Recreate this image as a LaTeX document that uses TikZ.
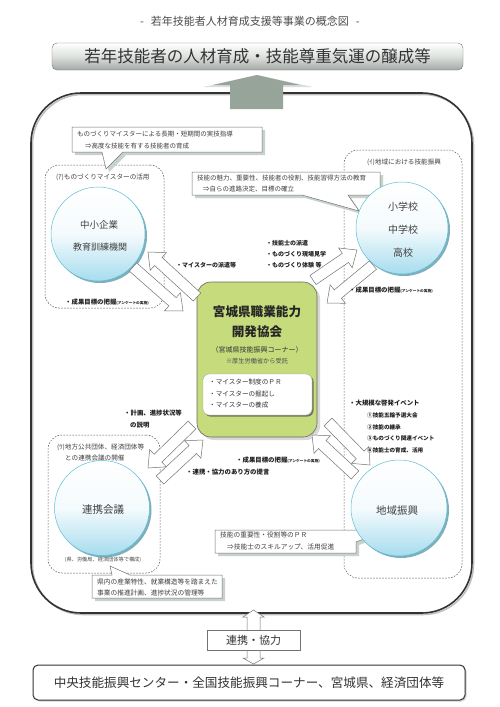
\documentclass[tikz,border=0pt]{standalone}
\usepackage{fontspec}
\setmainfont{Noto Sans CJK JP}
\usetikzlibrary{calc,shadows}
\definecolor{greenbox}{HTML}{C5DB7C}
\definecolor{cyanL}{HTML}{A6DCEE}
\definecolor{cyanB}{HTML}{5BBFD6}
\definecolor{cyanS}{HTML}{5F9BAA}
\definecolor{shadowc}{HTML}{C7D2CA}
\definecolor{arrowG}{HTML}{97A49A}
\definecolor{titleG}{HTML}{A3A9A5}
\definecolor{titleM}{HTML}{DDE1DE}
\definecolor{txt}{HTML}{333333}
\newcommand\fsz[1]{\fontsize{#1pt}{#1pt}\selectfont}
\newcommand\fatarrow[3]{%
  \coordinate (#1-a) at #2;
  \coordinate (#1-b) at #3;
  \coordinate (#1-n) at ($(#1-b)!14pt!(#1-a)$);
  \draw[fatarr] ($(#1-a)!5.5pt!90:(#1-b)$) -- ($(#1-n)!5.5pt!-90:(#1-a)$) -- ($(#1-n)!12pt!-90:(#1-a)$) -- (#1-b) -- ($(#1-n)!12pt!90:(#1-a)$) -- ($(#1-n)!5.5pt!90:(#1-a)$) -- ($(#1-a)!5.5pt!-90:(#1-b)$) -- cycle;}
\begin{document}
\begin{tikzpicture}[x=1pt,y=-1pt,
  every node/.style={inner sep=0pt, text=txt},
  lbl/.style={anchor=west, font=\fsz{6}\bfseries, text=black!88},
  lblbig/.style={anchor=west, font=\fsz{6.4}\bfseries, text=black!88},
  cot/.style={anchor=west, font=\fsz{6.5}, text=black!75},
  grp/.style={anchor=west, font=\fsz{6.6}, text=black!75},
  dashbox/.style={draw=black!65, dash pattern=on 1.6pt off 1.4pt, line width=0.5pt, rounded corners=14pt},
  circ/.style={circle, draw=cyanB, line width=0.5pt, top color=white, bottom color=cyanL, middle color=white!88!cyanL,
    drop shadow={shadow xshift=2pt, shadow yshift=-2pt, fill=cyanS, opacity=0.8}},
  ctext/.style={font=\fsz{10}, text=black!75},
  fatarr/.style={draw=black!55, fill=white, line width=0.5pt, line join=miter},
  callout/.style={draw=black!55, fill=white, line width=0.5pt},
  coshadow/.style={fill=shadowc}]
\useasboundingbox (0,0) rectangle (500,707);
\fill[white] (0,0) rectangle (500,707);

% subtitle and title
\node[font=\fsz{11}, text=black!70] (subt) at (250,21) {-\hspace{7pt}若年技能者人材育成支援等事業の概念図\hspace{7pt}-};
\node[draw=black!55, rounded corners=5pt, minimum width=411pt, minimum height=27pt,
  top color=white, bottom color=titleG, middle color=titleM, font=\fsz{16.5}, text=black!80] (title) at (257.5,56.5) {若年技能者の人材育成・技能尊重気運の醸成等};

% big frame
\node[draw=black!25, line width=1.5pt, rounded corners=50pt, minimum width=441pt, minimum height=520pt] (bigS) at (253,354.5) {};
\node[draw=black!80, line width=1.6pt, rounded corners=50pt, minimum width=441pt, minimum height=520pt] (big) at (251.5,353) {};

% up arrow
\fill[arrowG!35] (203,87) -- (257,75) -- (313,87) -- cycle;
\fill[arrowG] (230,109) -- (230,85) -- (213,85) -- (257,75) -- (300,85) -- (283,85) -- (283,109) -- cycle;

% dashed groups
\node[dashbox, minimum width=119pt, minimum height=143pt] (grpA) at (104.5,236.5) {};
\node[dashbox, minimum width=118pt, minimum height=428pt] (grpB) at (403,364) {};
\node[dashbox, minimum width=112pt, minimum height=138pt] (grpC) at (104,504) {};
\node[grp] (gA) at (56,177) {(ｱ)ものづくりマイスターの活用};
\node[grp] (gB) at (367,162) {(ｲ)地域における技能振興};
\node[grp] (gC1) at (57,447) {(ｳ)地方公共団体、経済団体等};
\node[grp] (gC2) at (65,458) {との連携会議の開催};

% callouts
\fill[coshadow, shift={(3,3)}] (72,127) -- (262,127) -- (262,152) -- (123,152) -- (106,169) -- (102,152) -- (72,152) -- cycle;
\draw[callout] (72,127) -- (262,127) -- (262,152) -- (123,152) -- (106,169) -- (102,152) -- (72,152) -- cycle;
\node[cot] (coA1) at (77,134) {ものづくりマイスターによる長期・短期間の実技指導};
\node[cot] (coA2) at (85,146) {⇒高度な技能を有する技能者の育成};

\fill[coshadow, shift={(3,3)}] (192,172) -- (380,172) -- (380,195) -- (348,195) -- (359,211) -- (302,195) -- (192,195) -- cycle;
\draw[callout] (192,172) -- (380,172) -- (380,195) -- (348,195) -- (359,211) -- (302,195) -- (192,195) -- cycle;
\node[cot] (coB1) at (197,178) {技能の魅力、重要性、技能者の役割、技能習得方法の教育};
\node[cot] (coB2) at (203,189) {⇒自らの進路決定、目標の確立};

\fill[coshadow, shift={(3,3)}] (92,575) -- (112,575) -- (110,566) -- (130,575) -- (222,575) -- (222,598) -- (92,598) -- cycle;
\draw[callout] (92,575) -- (112,575) -- (110,566) -- (130,575) -- (222,575) -- (222,598) -- (92,598) -- cycle;
\node[cot, font=\fsz{6.7}] (coC1) at (97,582) {県内の産業特性、就業構造等を踏まえた};
\node[cot, font=\fsz{6.7}] (coC2) at (97,593) {事業の推進計画、進捗状況の管理等};

\fill[coshadow, shift={(3,3)}] (215,530) -- (356,530) -- (372,536) -- (356,542) -- (356,553) -- (215,553) -- cycle;
\draw[callout] (215,530) -- (356,530) -- (372,536) -- (356,542) -- (356,553) -- (215,553) -- cycle;
\node[cot, font=\fsz{6.7}] (coD1) at (220,535) {技能の重要性・役割等のＰＲ};
\node[cot, font=\fsz{6.7}] (coD2) at (227,547) {⇒技能士のスキルアップ、活用促進};

% circles
\node[circ, minimum size=94pt] (cA) at (98,234) {};
\node[ctext, font=\fsz{9.5}] (cA1) at (99,225) {中小企業};
\node[ctext, font=\fsz{9}] (cA2) at (100,247) {教育訓練機関};
\node[circ, minimum size=92pt] (cB) at (402,228) {};
\node[ctext] (cB1) at (403,207) {小学校};
\node[ctext] (cB2) at (403,230) {中学校};
\node[ctext] (cB3) at (403,253) {高校};
\node[circ, minimum size=95pt] (cC) at (102,508) {};
\node[ctext, font=\fsz{10.5}] (cC1) at (103,510) {連携会議};
\node[font=\fsz{5.2}, text=black!70] (cCn) at (103,560) {(県、労働局、経済団体等で構成)};
\node[circ, minimum size=96pt] (cD) at (399,508) {};
\node[ctext, font=\fsz{10.5}] (cD1) at (397,511) {地域振興};

% center box
\node[draw=black!60, line width=0.6pt, fill=greenbox, rounded corners=14pt, minimum width=120pt, minimum height=155pt,
  drop shadow={shadow xshift=3pt, shadow yshift=-3pt, fill=black!25, opacity=0.6}] (ctr) at (257,359.5) {};
\node[font=\fsz{12.6}\bfseries, text=black!85] (ctr1) at (257,312) {宮城県職業能力};
\node[font=\fsz{12.6}\bfseries, text=black!85] (ctr2) at (257,332) {開発協会};
\node[font=\fsz{7}, text=black!80] (ctr3) at (257,350) {（宮城県技能振興コーナー）};
\node[font=\fsz{6.2}, text=black!70] (ctr4) at (257,361) {※厚生労働省から受託};
\node[fill=white, draw=black!35, rounded corners=6pt, minimum width=109pt, minimum height=41pt,
  drop shadow={shadow xshift=1.5pt, shadow yshift=-1.5pt, fill=black!70, opacity=0.7}] (inner) at (257.5,394.5) {};
\node[anchor=west, font=\fsz{6.6}, text=black!80] (in1) at (209,382) {・マイスター制度のＰＲ};
\node[anchor=west, font=\fsz{6.6}, text=black!80] (in2) at (209,394) {・マイスターの掘起し};
\node[anchor=west, font=\fsz{6.6}, text=black!80] (in3) at (209,405) {・マイスターの養成};

% fat arrows
\fatarrow{arrA}{(197,297)}{(148,252)}
\fatarrow{arrB}{(133,267)}{(183,311)}
\fatarrow{arrC}{(313,280)}{(357,250)}
\fatarrow{arrD}{(373,265)}{(327,303)}
\fatarrow{arrE}{(192,425)}{(148,468)}
\fatarrow{arrF}{(160,480)}{(203,440)}
\fatarrow{arrG}{(328,422)}{(370,465)}
\fatarrow{arrH}{(355,475)}{(312,435)}

% labels
\node[lbl] (lA) at (176,265) {・マイスターの派遣等};
\node[lblbig] (lB) at (65,302) {・成果目標の把握{\fsz{3.7}(アンケートの実施)}};
\node[lbl] (lC1) at (266,243) {・技能士の派遣};
\node[lbl] (lC2) at (266,254) {・ものづくり現場見学};
\node[lbl] (lC3) at (266,265) {・ものづくり体験\ 等};
\node[lblbig] (lD) at (349,290) {・成果目標の把握{\fsz{3.7}(アンケートの実施)}};
\node[lblbig] (lE1) at (124,413) {・計画、進捗状況等};
\node[lblbig] (lE2) at (130,425) {の説明};
\node[lblbig] (lF) at (236,460) {・成果目標の把握{\fsz{3.7}(アンケートの実施)}};
\node[lblbig] (lG) at (186,472) {・連携・協力のあり方の提言};
\node[lblbig] (lH) at (349,403) {・大規模な啓発イベント};
\node[lbl, font=\fsz{5.6}\bfseries] (lH1) at (367,415) {①技能五輪予選大会};
\node[lbl, font=\fsz{5.6}\bfseries] (lH2) at (367,427) {②技能の継承};
\node[lbl, font=\fsz{5.6}\bfseries] (lH3) at (367,438) {③ものづくり関連イベント};
\node[lbl, font=\fsz{5.6}\bfseries] (lH4) at (367,450) {④技能士の育成、活用};

% bottom
\draw[fatarr] (247,617) -- (243,617) -- (253.5,610) -- (264,617) -- (260,617) -- (260,658) -- (264,658) -- (253.5,664) -- (243,658) -- (247,658) -- cycle;
\node[draw=black!55, fill=white, minimum width=93pt, minimum height=20pt, font=\fsz{11}, text=black!80] (renkei) at (253.5,640) {連携・協力};
\node[draw=black!80, line width=1pt, rounded corners=5pt, fill=white, minimum width=432pt, minimum height=35pt, font=\fsz{12.6}, text=black!80,
  drop shadow={shadow xshift=1.5pt, shadow yshift=-1.5pt, fill=black!30, opacity=0.6}] (central) at (249,682.5) {中央技能振興センター・全国技能振興コーナー、宮城県、経済団体等};
\end{tikzpicture}
\end{document}
